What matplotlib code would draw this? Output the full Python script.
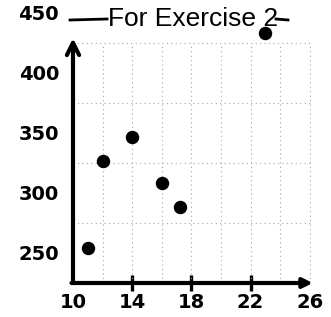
import matplotlib
matplotlib.use('agg')

import matplotlib.pyplot as plt
from matplotlib.lines import Line2D

# values
x_vals = [11, 12, 14, 16, 17.25, 23]
y_vals = [254, 327, 347, 308, 288, 433]

x_ticks = [10, 14, 18, 22, 26]
x_marks = [14, 18, 22]
y_ticks = [250, 300, 350, 400, 450]
x_grid = [12, 14, 16, 18, 20, 22, 24, 26]
y_grid = [275, 325, 375, 425]

W, H = 331, 317
fig = plt.figure(figsize=(W / 100, H / 100), dpi=100)
ax = fig.add_axes([73 / W, (H - 283) / H, 238 / W, 283 / H])
ax.set_xlim(10, 26.08)
ax.set_ylim(225, 225 + 283 * 50 / 60)

for s in ax.spines.values():
    s.set_visible(False)

# graph paper
ax.vlines(x_grid, 225, 425, colors='#a5a5a5', lw=0.8, linestyles=(0, (1, 3)))
ax.hlines(y_grid, 10, 26.08, colors='#a5a5a5', lw=0.8, linestyles=(0, (1, 3)))

# hand drawn axes with arrows
ax.annotate('', xy=(10, 429), xytext=(10, 225),
            arrowprops=dict(arrowstyle='->', lw=3, color='k', mutation_scale=22,
                            shrinkA=0, shrinkB=0),
            annotation_clip=False)
ax.annotate('', xy=(26.2, 225), xytext=(9.9, 225),
            arrowprops=dict(arrowstyle='-|>', lw=3, color='k', mutation_scale=14,
                            shrinkA=0, shrinkB=0),
            annotation_clip=False)

ax.scatter(x_vals, y_vals, s=75, color='k', zorder=5, clip_on=False)

ax.xaxis.remove_overlapping_locs = False
ax.set_xticks(x_ticks)
ax.set_xticklabels([str(v) for v in x_ticks])
ax.set_xticks(x_marks, minor=True)
ax.tick_params(axis='x', which='major', length=0, pad=7)
ax.tick_params(axis='x', which='minor', direction='inout', length=12, width=2.4)
ax.set_yticks(y_ticks)
ax.set_yticklabels([str(v) for v in y_ticks])
ax.tick_params(axis='y', length=0, pad=10)
for lab in ax.get_xticklabels() + ax.get_yticklabels():
    lab.set_fontweight('bold')
    lab.set_fontsize(14)
    lab.set_clip_on(False)

fig.text(193 / W, 1 - 26 / H, 'For Exercise 2', ha='center', va='baseline',
         family='Liberation Sans', fontsize=19)
fig.add_artist(Line2D([70 / W, 107 / W], [1 - 20 / H, 1 - 19 / H], color='k', lw=2))
fig.add_artist(Line2D([276 / W, 288 / W], [1 - 19 / H, 1 - 20 / H], color='k', lw=2))

fig.savefig('out.png', dpi=100)
